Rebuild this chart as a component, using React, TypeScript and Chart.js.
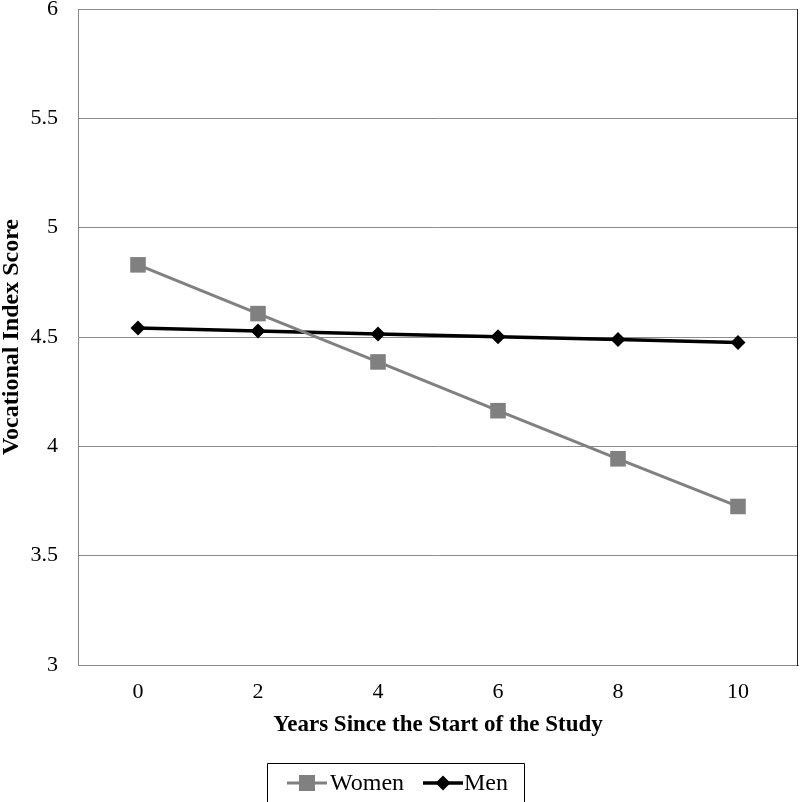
import React, { useEffect, useRef } from "react";
import { Chart, registerables } from "chart.js";

Chart.register(...registerables);

const categories = ["0", "2", "4", "6", "8", "10"];
const womenValues = [4.83, 4.607, 4.386, 4.163, 3.943, 3.725];
const menValues = [4.541, 4.528, 4.514, 4.501, 4.488, 4.475];
const seriesNames = ["Women", "Men"];
const yTitle = "Vocational Index Score";
const xTitle = "Years Since the Start of the Study";

const FONT = "'Liberation Serif', 'Times New Roman', serif";

const frameAndLegend = {
  id: "frameAndLegend",
  afterDraw(chart: any) {
    const { ctx, chartArea } = chart;
    ctx.save();
    // right border of plot area
    ctx.strokeStyle = "#222";
    ctx.lineWidth = 1;
    ctx.beginPath();
    ctx.moveTo(chartArea.right - 0.5, chartArea.top);
    ctx.lineTo(chartArea.right - 0.5, chartArea.bottom + 1);
    ctx.stroke();

    // legend box
    const bx = 267.5, by = 763.5, bw = 257, bh = 50;
    ctx.strokeStyle = "#000";
    ctx.beginPath();
    ctx.moveTo(bx, by + bh);
    ctx.lineTo(bx, by);
    ctx.lineTo(bx + bw, by);
    ctx.lineTo(bx + bw, by + bh);
    ctx.stroke();

    const cy = 783;
    const ds = chart.data.datasets;
    const items = [
      { x0: 287, x1: 327, tx: 330 },
      { x0: 423, x1: 463, tx: 464 },
    ];
    items.forEach((it, i) => {
      const d = ds[i];
      ctx.strokeStyle = d.borderColor;
      ctx.lineWidth = d.borderWidth;
      ctx.beginPath();
      ctx.moveTo(it.x0, cy);
      ctx.lineTo(it.x1, cy);
      ctx.stroke();
      const mx = (it.x0 + it.x1) / 2;
      ctx.fillStyle = d.pointBackgroundColor;
      if (d.pointStyle === "rect") {
        ctx.fillRect(mx - 8, cy - 8, 16, 16);
      } else {
        const r = 7.5;
        ctx.beginPath();
        ctx.moveTo(mx, cy - r);
        ctx.lineTo(mx + r, cy);
        ctx.lineTo(mx, cy + r);
        ctx.lineTo(mx - r, cy);
        ctx.closePath();
        ctx.fill();
      }
      ctx.fillStyle = "#000";
      ctx.font = `24px ${FONT}`;
      ctx.textAlign = "left";
      ctx.textBaseline = "middle";
      ctx.fillText(d.label, it.tx, cy + 1);
    });
    ctx.restore();
  },
};

export default function App() {
  const ref = useRef<HTMLCanvasElement | null>(null);

  useEffect(() => {
    if (!ref.current) return;
    const chart = new Chart(ref.current, {
      type: "line",
      data: {
        labels: categories,
        datasets: [
          {
            label: seriesNames[0],
            data: womenValues,
            borderColor: "#808080",
            backgroundColor: "#808080",
            pointBackgroundColor: "#808080",
            pointBorderColor: "#808080",
            borderWidth: 3,
            pointStyle: "rect",
            pointRadius: 11,
            pointBorderWidth: 0,
            tension: 0,
          },
          {
            label: seriesNames[1],
            data: menValues,
            borderColor: "#000000",
            backgroundColor: "#000000",
            pointBackgroundColor: "#000000",
            pointBorderColor: "#000000",
            borderWidth: 3.5,
            pointStyle: "rectRot",
            pointRadius: 7.5,
            pointBorderWidth: 0,
            tension: 0,
          },
        ],
      },
      options: {
        animation: false,
        responsive: false,
        devicePixelRatio: 1,
        layout: { autoPadding: false, padding: { top: 9, right: 2, bottom: 57, left: 0 } },
        plugins: {
          legend: { display: false },
          tooltip: { enabled: false },
        },
        scales: {
          x: {
            type: "category",
            offset: true,
            grid: { display: false, drawTicks: false },
            border: { display: true, color: "#888", width: 1 },
            ticks: {
              color: "#000",
              font: { family: FONT, size: 22 },
              padding: 14,
              maxRotation: 0,
            },
            title: {
              display: true,
              text: xTitle,
              color: "#000",
              font: { family: FONT, size: 23, weight: "bold" },
              padding: { top: 0, bottom: 6 },
            },
            afterFit: (s: any) => {
              s.height = 80;
              s.paddingLeft = 0;
              s.paddingRight = 0;
            },
          },
          y: {
            min: 3,
            max: 6,
            ticks: {
              stepSize: 0.5,
              color: "#000",
              font: { family: FONT, size: 22 },
              padding: 20,
              callback: (v: any) => String(Number(v)),
            },
            grid: { color: "#8c8c8c", lineWidth: 1, drawTicks: false },
            border: { display: true, color: "#888", width: 1 },
            title: {
              display: true,
              text: yTitle,
              color: "#000",
              font: { family: FONT, size: 24, weight: "bold", lineHeight: 1 },
              padding: { top: 0, bottom: 0 },
            },
            afterFit: (s: any) => {
              s.width = 78;
              s.paddingTop = 0;
              s.paddingBottom = 0;
            },
          },
        },
      },
      plugins: [frameAndLegend],
    });
    return () => chart.destroy();
  }, []);

  return (
    <div style={{ position: "fixed", left: 0, top: 0, width: 800, height: 802, background: "#fff" }}>
      <canvas ref={ref} width={800} height={802} style={{ width: 800, height: 802, display: "block" }} />
    </div>
  );
}
